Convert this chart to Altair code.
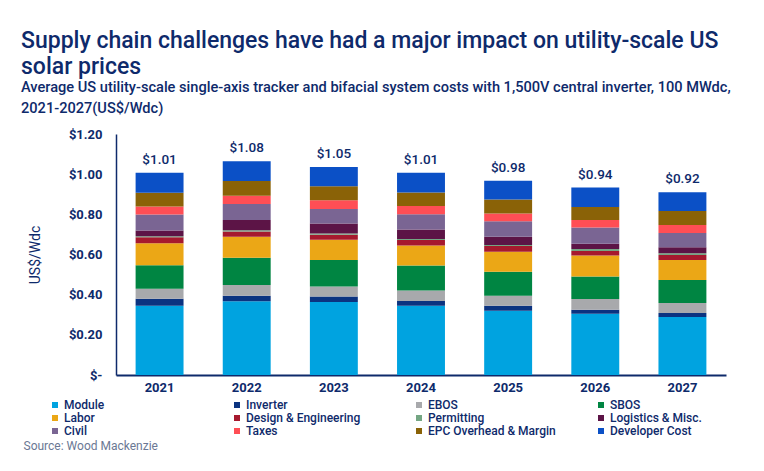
import altair as alt
import pandas as pd

years = ["2021", "2022", "2023", "2024", "2025", "2026", "2027"]
series = ["Module", "Inverter", "EBOS", "SBOS", "Labor", "Design & Engineering",
          "Permitting", "Logistics & Misc.", "Civil", "Taxes",
          "EPC Overhead & Margin", "Developer Cost"]
colors = ["#00A3E0", "#0B3380", "#A8A9AC", "#008542", "#EBA716", "#A6192E",
          "#74A683", "#5C1446", "#7A6593", "#FF4E55", "#8A6207", "#0B50C6"]

module = [0.345, 0.367, 0.363, 0.345, 0.320, 0.305, 0.289]
inverter = [0.035, 0.028, 0.028, 0.023, 0.025, 0.020, 0.020]
ebos = [0.050, 0.053, 0.050, 0.053, 0.050, 0.053, 0.050]
sbos = [0.116, 0.136, 0.131, 0.124, 0.119, 0.113, 0.114]
labor = [0.110, 0.104, 0.101, 0.100, 0.100, 0.104, 0.100]
design = [0.030, 0.027, 0.025, 0.027, 0.028, 0.022, 0.025]
permitting = [0.005, 0.006, 0.006, 0.005, 0.005, 0.010, 0.008]
logistics = [0.028, 0.051, 0.050, 0.048, 0.041, 0.027, 0.030]
civil = [0.080, 0.080, 0.073, 0.076, 0.078, 0.080, 0.071]
taxes = [0.040, 0.041, 0.043, 0.040, 0.038, 0.038, 0.040]
epc = [0.068, 0.073, 0.070, 0.068, 0.070, 0.065, 0.070]
developer = [0.100, 0.098, 0.096, 0.098, 0.093, 0.096, 0.093]
total_labels = ["$1.01", "$1.08", "$1.05", "$1.01", "$0.98", "$0.94", "$0.92"]

y_ticks = [0, 0.2, 0.4, 0.6, 0.8, 1.0, 1.2]

all_values = [module, inverter, ebos, sbos, labor, design, permitting,
              logistics, civil, taxes, epc, developer]

rows = []
for si, (name, vals) in enumerate(zip(series, all_values)):
    for yr, v in zip(years, vals):
        rows.append({"year": yr, "series": name, "value": v, "idx": si})
df = pd.DataFrame(rows)

tot = df.groupby("year", as_index=False)["value"].sum()
tot["label"] = total_labels
tot = tot.rename(columns={"value": "total"})

# legend fills column by column (3 rows x 4 columns), so reorder the domain
n_rows, n_cols = 3, 4
legend_order = [r * n_cols + c for c in range(n_cols) for r in range(n_rows)]
legend_domain = [series[i] for i in legend_order]
legend_range = [colors[i] for i in legend_order]

NAVY = "#0E2A6B"

x_enc = alt.X("year:N", sort=years,
              scale=alt.Scale(paddingInner=0.45, paddingOuter=0.225),
              axis=alt.Axis(title="Source: Wood Mackenzie", labelAngle=0, ticks=False,
                            labelPadding=6, labelFontSize=13, labelFontWeight="bold",
                            labelColor=NAVY, domainColor=NAVY, domainWidth=2,
                            titleAnchor="start", titleAlign="left", titleX=-93, titleY=70,
                            titleFontSize=12, titleFontWeight="normal", titleColor="#6B7894",
                            titleBaseline="middle"))

bars = alt.Chart(df).mark_bar().encode(
    x=x_enc,
    y=alt.Y("value:Q", stack="zero",
            scale=alt.Scale(domain=[0, 1.2], nice=False),
            axis=alt.Axis(title="US$/Wdc", values=y_ticks, grid=False, ticks=False,
                          labelPadding=14, labelFontSize=13, labelFontWeight="bold",
                          labelColor=NAVY, domainColor=NAVY, domainWidth=1.5,
                          labelExpr="datum.value == 0 ? '$-' : '$' + format(datum.value, '.2f')",
                          titleFontSize=14, titleFontWeight="normal", titleColor=NAVY,
                          titlePadding=26)),
    color=alt.Color("series:N", sort=legend_domain,
                    scale=alt.Scale(domain=legend_domain, range=legend_range),
                    legend=alt.Legend(title=None, orient="none", legendX=-67, legendY=265,
                                      columns=4, gridAlign="all", columnPadding=39,
                                      rowPadding=1, symbolType="square", symbolSize=36,
                                      symbolStrokeWidth=0, labelOffset=3,
                                      labelFontSize=12, labelFontWeight=500,
                                      labelColor=NAVY, padding=0, labelLimit=200)),
    order=alt.Order("idx:Q", sort="ascending"),
)

labels = alt.Chart(tot).mark_text(baseline="bottom", dy=-6, fontSize=13.5,
                                  fontWeight=500, color=NAVY).encode(
    x=alt.X("year:N", sort=years),
    y=alt.Y("total:Q"),
    text="label:N",
)

chart = alt.layer(bars, labels).properties(
    width=610, height=241,
    padding={"left": 13, "top": 22, "right": 10, "bottom": 5},
    title=alt.TitleParams(
        text=["Supply chain challenges have had a major impact on utility-scale US",
              "solar prices"],
        subtitle=["Average US utility-scale single-axis tracker and bifacial system costs with 1,500V central inverter, 100 MWdc,",
                  "2021-2027(US$/Wdc)"],
        anchor="start", frame="group", dx=-95, fontSize=23, lineHeight=26,
        fontWeight=500, color=NAVY, subtitleFontSize=14.6, subtitleLineHeight=21,
        subtitleColor=NAVY, subtitleFontWeight=500, subtitlePadding=1, offset=12,
        font="Roboto", subtitleFont="Roboto"),
).configure(font="Roboto").configure_view(stroke=None)

chart.save("out.html", embed_options={"renderer": "svg", "actions": False})
